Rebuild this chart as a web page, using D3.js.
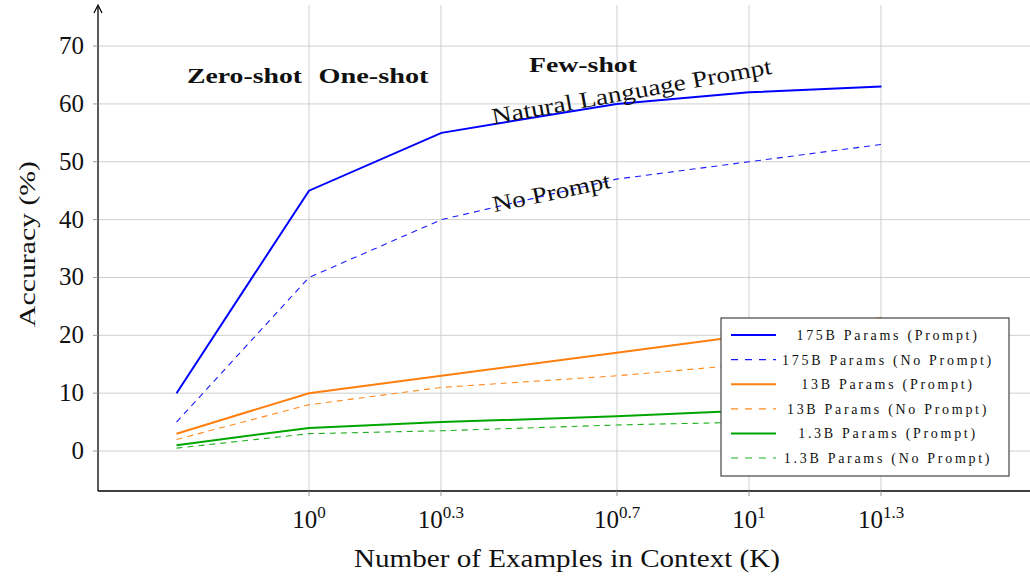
<!DOCTYPE html>
<html>
<head>
<meta charset="utf-8">
<script src="https://cdn.jsdelivr.net/npm/d3@7"></script>
<style>
  body { margin: 0; background: #fff; }
  svg text { font-family: "Liberation Serif", "DejaVu Serif", serif; fill: #111; }
</style>
</head>
<body>
<div id="chart"></div>
<script>
// number of examples in context (zero-shot drawn at 10^-0.3)
const shots = [0.5, 1, 2, 5, 10, 20];
const tickExps = [0, 0.3, 0.7, 1, 1.3];
const yTicks = [0, 10, 20, 30, 40, 50, 60, 70];

const acc175Prompt = [10, 45, 55, 60, 62, 63];
const acc175NoPrompt = [5, 30, 40, 47, 50, 53];
const acc13Prompt = [3, 10, 13, 17, 20, 23];
const acc13NoPrompt = [2, 8, 11, 13, 15, 17];
const acc1_3Prompt = [1, 4, 5, 6, 7, 8];
const acc1_3NoPrompt = [0.5, 3, 3.5, 4.5, 5, 5.5];

const series = [
  { name: "175B Params (Prompt)", values: acc175Prompt, color: "#0000ff", dashed: false },
  { name: "175B Params (No Prompt)", values: acc175NoPrompt, color: "#1a1aff", dashed: true },
  { name: "13B Params (Prompt)", values: acc13Prompt, color: "#ff7f0e", dashed: false },
  { name: "13B Params (No Prompt)", values: acc13NoPrompt, color: "#ff8a1a", dashed: true },
  { name: "1.3B Params (Prompt)", values: acc1_3Prompt, color: "#00a600", dashed: false },
  { name: "1.3B Params (No Prompt)", values: acc1_3NoPrompt, color: "#1fb01f", dashed: true }
];

const W = 1030, H = 578;
const pLeft = 98, pRight = 1030, pTop = 5, pBottom = 491;

const svg = d3.select("#chart").append("svg")
  .attr("width", W).attr("height", H);

const x = d3.scaleLog()
  .domain([Math.pow(10, -0.4795), Math.pow(10, 1.6386)])
  .range([pLeft, pRight]);
const y = d3.scaleLinear()
  .domain([-6.91, 77.1])
  .range([pBottom, pTop]);

// grid
svg.append("g").selectAll("line").data(yTicks).join("line")
  .attr("x1", pLeft).attr("x2", pRight)
  .attr("y1", d => y(d)).attr("y2", d => y(d))
  .attr("stroke", "#cfcfcf").attr("stroke-width", 1);
svg.append("g").selectAll("line").data(tickExps).join("line")
  .attr("x1", d => x(Math.pow(10, d))).attr("x2", d => x(Math.pow(10, d)))
  .attr("y1", pTop).attr("y2", pBottom)
  .attr("stroke", "#cfcfcf").attr("stroke-width", 1);

// y tick labels
svg.append("g").selectAll("text").data(yTicks).join("text")
  .attr("x", 84).attr("y", d => y(d) + 8)
  .attr("text-anchor", "end")
  .style("font-size", "25px")
  .text(d => d);

// x tick labels with superscripts
const xl = svg.append("g").selectAll("text").data(tickExps).join("text")
  .attr("x", d => x(Math.pow(10, d))).attr("y", 528)
  .attr("text-anchor", "middle")
  .style("font-size", "25px");
xl.append("tspan").text("10");
xl.append("tspan").attr("dy", -10).style("font-size", "17px").text(d => d);

// lines
const line = d3.line()
  .x((d, i) => x(shots[i]))
  .y(d => y(d));

svg.append("g").selectAll("path").data(series).join("path")
  .attr("d", d => line(d.values))
  .attr("fill", "none")
  .attr("stroke", d => d.color)
  .attr("stroke-width", d => d.dashed ? 1.1 : 2)
  .attr("stroke-dasharray", d => d.dashed ? "6,5" : null);

// axes
svg.append("line").attr("x1", pLeft).attr("x2", pLeft).attr("y1", pBottom).attr("y2", pTop + 2)
  .attr("stroke", "#000").attr("stroke-width", 1.3);
svg.append("path").attr("d", `M${pLeft - 4},${pTop + 8} L${pLeft},${pTop} L${pLeft + 4},${pTop + 8}`)
  .attr("fill", "none").attr("stroke", "#000").attr("stroke-width", 1.2);
svg.append("line").attr("x1", pLeft).attr("x2", pRight).attr("y1", pBottom).attr("y2", pBottom)
  .attr("stroke", "#000").attr("stroke-width", 1.3);
svg.append("g").selectAll("line").data(yTicks).join("line")
  .attr("x1", pLeft - 5).attr("x2", pLeft)
  .attr("y1", d => y(d)).attr("y2", d => y(d))
  .attr("stroke", "#999");
svg.append("g").selectAll("line").data(tickExps).join("line")
  .attr("x1", d => x(Math.pow(10, d))).attr("x2", d => x(Math.pow(10, d)))
  .attr("y1", pBottom).attr("y2", pBottom + 5)
  .attr("stroke", "#999");

// axis titles
svg.append("text").attr("x", 567).attr("y", 567)
  .attr("text-anchor", "middle").style("font-size", "25px")
  .attr("textLength", 426).attr("lengthAdjust", "spacingAndGlyphs")
  .text("Number of Examples in Context (K)");
svg.append("text").attr("transform", "translate(35,244) rotate(-90)")
  .attr("text-anchor", "middle").style("font-size", "24px")
  .attr("textLength", 166).attr("lengthAdjust", "spacingAndGlyphs")
  .text("Accuracy (%)");

// regime labels
const regimes = [
  { text: "Zero-shot", x: 244.5, y: 83, w: 115 },
  { text: "One-shot", x: 373.5, y: 83, w: 110 },
  { text: "Few-shot", x: 583, y: 72, w: 108 }
];
svg.append("g").selectAll("text").data(regimes).join("text")
  .attr("x", d => d.x).attr("y", d => d.y)
  .attr("text-anchor", "middle")
  .attr("textLength", d => d.w).attr("lengthAdjust", "spacingAndGlyphs")
  .style("font-size", "22px").style("font-weight", "bold")
  .text(d => d.text);

// inline line labels
svg.append("text").attr("transform", "translate(633,99) rotate(-10.3)")
  .attr("text-anchor", "middle").style("font-size", "23px")
  .attr("textLength", 284).attr("lengthAdjust", "spacingAndGlyphs")
  .text("Natural Language Prompt");
svg.append("text").attr("transform", "translate(553,200) rotate(-11.8)")
  .attr("text-anchor", "middle").style("font-size", "23px")
  .attr("textLength", 120).attr("lengthAdjust", "spacingAndGlyphs")
  .text("No Prompt");

// legend
const lg = svg.append("g").attr("transform", "translate(721,318)");
lg.append("rect").attr("width", 288).attr("height", 158)
  .attr("fill", "#fff").attr("stroke", "#444").attr("stroke-width", 1.2);
const row = lg.selectAll("g").data(series).join("g")
  .attr("transform", (d, i) => `translate(0,${17 + i * 24.6})`);
row.append("line").attr("x1", 10).attr("x2", 55)
  .attr("stroke", d => d.color)
  .attr("stroke-width", d => d.dashed ? 1.2 : 2)
  .attr("stroke-dasharray", d => d.dashed ? "7,7" : null);
row.append("text").attr("x", 167).attr("y", 5)
  .attr("text-anchor", "middle")
  .style("font-size", "14px").style("letter-spacing", "2.7px")
  .text(d => d.name);
</script>
</body>
</html>
